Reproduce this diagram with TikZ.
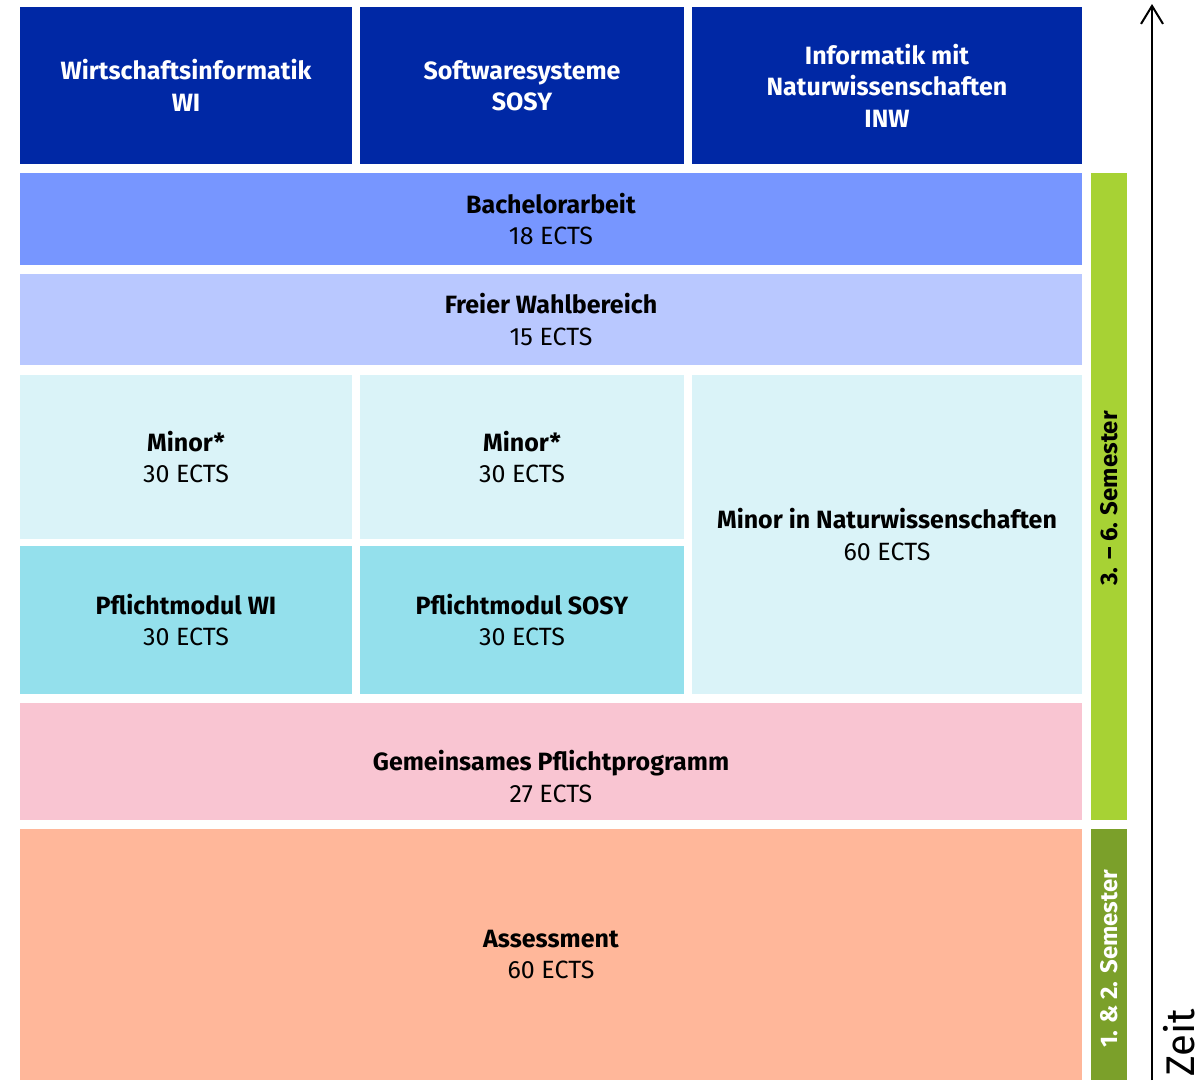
\documentclass[tikz,border=0pt]{standalone}
\usepackage{fontspec}
\setmainfont{Fira Sans}
\usetikzlibrary{arrows.meta}
\definecolor{hdr}{HTML}{0028A5}
\definecolor{bach}{HTML}{7796FF}
\definecolor{frei}{HTML}{B9C8FF}
\definecolor{minor}{HTML}{DAF3F8}
\definecolor{pflicht}{HTML}{94E0EC}
\definecolor{gem}{HTML}{F9C5D2}
\definecolor{assess}{HTML}{FFB79A}
\definecolor{glight}{HTML}{A7D234}
\definecolor{gdark}{HTML}{7BA02A}
\tikzset{
  box/.style={anchor=north west, inner sep=0pt, outer sep=0pt, align=center,
    font=\fontsize{25}{31.5}\selectfont},
  hbox/.style={box, fill=hdr, text=white, font=\fontsize{25}{31.5}\selectfont\bfseries},
  sem/.style={anchor=north west, inner sep=0pt, outer sep=0pt},
  semlbl/.style={rotate=90, inner sep=0pt, font=\fontsize{24}{28}\selectfont\bfseries},
}
\begin{document}
\begin{tikzpicture}[x=1pt,y=1pt]
\useasboundingbox (0,0) rectangle (1198,-1080);
% header
\node[hbox, minimum width=332pt, minimum height=157pt] (wi) at (20,-7) {Wirtschaftsinformatik\\WI};
\node[hbox, minimum width=324pt, minimum height=157pt] (sosy) at (360,-7) {Softwaresysteme\\SOSY};
\node[hbox, minimum width=390pt, minimum height=157pt] (inw) at (692,-7) {Informatik mit\\Naturwissenschaften\\INW};
% rows
\node[box, fill=bach, minimum width=1062pt, minimum height=92pt] (ba) at (20,-173) {\textbf{Bachelorarbeit}\\18 ECTS};
\node[box, fill=frei, minimum width=1062pt, minimum height=91pt] (fw) at (20,-274) {\textbf{Freier Wahlbereich}\\15 ECTS};
\node[box, fill=minor, minimum width=332pt, minimum height=164pt] (m1) at (20,-375) {\textbf{Minor*}\\30 ECTS};
\node[box, fill=minor, minimum width=324pt, minimum height=164pt] (m2) at (360,-375) {\textbf{Minor*}\\30 ECTS};
\node[box, fill=minor, minimum width=390pt, minimum height=319pt] (mn) at (692,-375) {\textbf{Minor in Naturwissenschaften}\\60 ECTS};
\node[box, fill=pflicht, minimum width=332pt, minimum height=148pt] (p1) at (20,-546) {\textbf{Pflichtmodul WI}\\30 ECTS};
\node[box, fill=pflicht, minimum width=324pt, minimum height=148pt] (p2) at (360,-546) {\textbf{Pflichtmodul SOSY}\\30 ECTS};
\node[box, fill=gem, minimum width=1062pt, minimum height=117pt] (gp) at (20,-703) {};
\node[align=center, inner sep=0pt, font=\fontsize{25}{31.5}\selectfont] (gpt) at ([yshift=-15pt]gp.center) {\textbf{Gemeinsames Pflichtprogramm}\\27 ECTS};
\node[box, fill=assess, minimum width=1062pt, minimum height=251pt] (as) at (20,-829) {\textbf{Assessment}\\60 ECTS};
% semester bars
\node[sem, fill=glight, minimum width=36pt, minimum height=647pt] (s36) at (1091,-173) {};
\node[semlbl, text=black] (s36l) at ([yshift=-2pt]s36.center) {3. – 6. Semester};
\node[sem, fill=gdark, minimum width=36pt, minimum height=251pt] (s12) at (1091,-829) {};
\node[semlbl, text=white, anchor=west] (s12l) at ([yshift=32pt]s12.south) {1. \& 2. Semester};
% time arrow
\coordinate (ts) at (1152,-1080);
\coordinate (te) at (1152,-4);
\draw[line width=2pt, -{Straight Barb[length=18pt,width=22pt,line width=2pt]}] (ts) -- (te);
\node[rotate=90, anchor=base west, inner sep=0pt, font=\fontsize{40}{46}\selectfont] (zeit) at (1194,-1077) {Zeit};
\end{tikzpicture}
\end{document}
